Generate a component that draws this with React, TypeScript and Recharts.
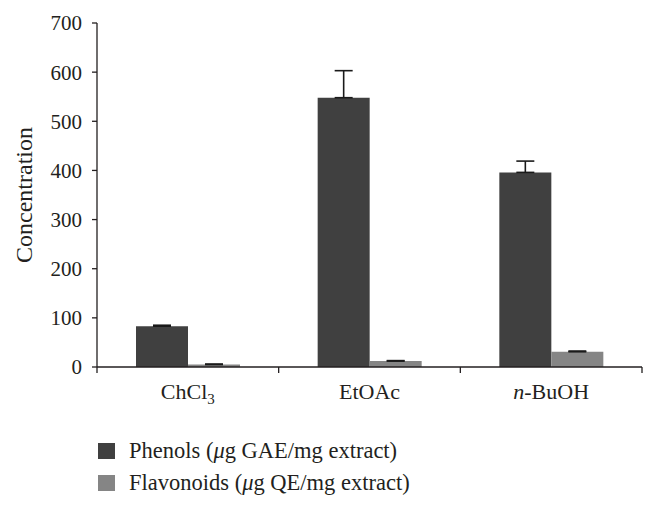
import { BarChart, Bar, XAxis, YAxis, ErrorBar, Legend, ReferenceLine } from "recharts";

const categories = ["ChCl3", "EtOAc", "n-BuOH"];
const phenols = [83, 548, 396];
const phenolsErr = [2, 55, 23];
const flavonoids = [5, 12, 31];
const flavonoidsErr = [1, 1, 1.5];
const yTicks = [0, 100, 200, 300, 400, 500, 600, 700];

const data = categories.map((name, i) => ({
  name,
  phenols: phenols[i],
  phenolsErr: [0, phenolsErr[i]],
  flavonoids: flavonoids[i],
  flavonoidsErr: [0, flavonoidsErr[i]],
}));

const FONT = "Liberation Serif, Tinos, Times New Roman, DejaVu Serif, serif";
const TEXT = "#231f20";

function CategoryTick({ x, y, payload }: any) {
  const v = payload.value as string;
  let content: any = v;
  if (v === "ChCl3") {
    content = (
      <>
        ChCl<tspan fontSize={15} dy={5}>3</tspan>
      </>
    );
  } else if (v === "n-BuOH") {
    content = (
      <>
        <tspan fontStyle="italic">n</tspan>-BuOH
      </>
    );
  }
  return (
    <text x={x} y={y + 24} textAnchor="middle" style={{ fontFamily: FONT }} fontSize={22} fill={TEXT}>
      {content}
    </text>
  );
}

function LegendBox() {
  const items = [
    { color: "#404040", label: "Phenols (", unit: "GAE/mg extract)" },
    { color: "#858585", label: "Flavonoids (", unit: "QE/mg extract)" },
  ];
  return (
    <div style={{ fontFamily: FONT, fontSize: 22.5, color: TEXT }}>
      {items.map((it) => (
        <div key={it.label} style={{ display: "flex", alignItems: "center", height: 32 }}>
          <span style={{ display: "inline-block", width: 17, height: 16, background: it.color, marginRight: 14 }} />
          <span>
            {it.label}
            <i>μ</i>g {it.unit}
          </span>
        </div>
      ))}
    </div>
  );
}

export default function App() {
  return (
    <div style={{ position: "absolute", left: 0, top: 0, background: "#fff", fontFamily: FONT }}>
      <BarChart
        width={657}
        height={506}
        data={data}
        margin={{ top: 23, right: 15, left: 0, bottom: 99 }}
        barGap={0}
        barSize={52}
      >
        <XAxis
          dataKey="name"
          height={40}
          tickLine={false}
          axisLine={{ stroke: TEXT, strokeWidth: 1.3 }}
          tick={<CategoryTick />}
          interval={0}
        />
        <YAxis
          width={97}
          domain={[0, 700]}
          ticks={yTicks}
          tickSize={5}
          tickMargin={10}
          tickLine={{ stroke: TEXT, strokeWidth: 1.3 }}
          axisLine={{ stroke: TEXT, strokeWidth: 1.3 }}
          tick={{ fontFamily: FONT, fontSize: 21, fill: TEXT }}
          label={{
            value: "Concentration",
            angle: -90,
            position: "insideLeft",
            offset: 23,
            style: { fontFamily: FONT, fontSize: 24, fill: TEXT, textAnchor: "middle" },
          }}
        />
        <ReferenceLine
          segment={[{ x: categories[0], y: 0 }, { x: categories[0], y: -12 }]}
          position="start"
          ifOverflow="visible"
          stroke={TEXT}
          strokeWidth={1.3}
        />
        {categories.map((c) => (
          <ReferenceLine
            key={c}
            segment={[{ x: c, y: 0 }, { x: c, y: -12 }]}
            position="end"
            ifOverflow="visible"
            stroke={TEXT}
            strokeWidth={1.3}
          />
        ))}
        <Legend
          layout="vertical"
          align="center"
          verticalAlign="middle"
          wrapperStyle={{ top: 435, left: 98, width: 420 }}
          content={<LegendBox />}
        />
        <Bar dataKey="phenols" fill="#404040" isAnimationActive={false}>
          <ErrorBar dataKey="phenolsErr" width={9} stroke="#1a1a1a" strokeWidth={1.6} />
        </Bar>
        <Bar dataKey="flavonoids" fill="#858585" isAnimationActive={false}>
          <ErrorBar dataKey="flavonoidsErr" width={9} stroke="#1a1a1a" strokeWidth={1.6} />
        </Bar>
      </BarChart>
    </div>
  );
}
